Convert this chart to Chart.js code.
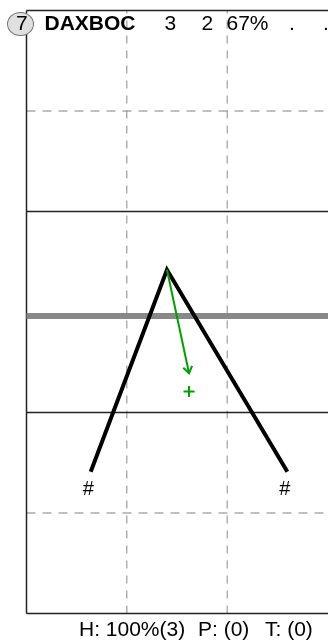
<!DOCTYPE html>
<html>
<head>
<meta charset="utf-8">
<script src="https://cdn.jsdelivr.net/npm/chart.js@4"></script>
<style>
  body { margin: 0; background: #fff; font-family: "Liberation Sans", Arial, sans-serif; }
  #wrap { position: relative; width: 328px; height: 642px; overflow: hidden; }
  canvas { position: absolute; left: 0; top: 0; }
  .t { position: absolute; font-size: 21px; line-height: 24px; color: #000; white-space: pre; }
  .badge { position: absolute; left: 6.5px; top: 11.5px; width: 25px; height: 22px; border-radius: 50%;
           background: #e0e0e0; border: 1px solid #777; }
</style>
</head>
<body>
<div id="wrap">
  <canvas id="chart" width="328" height="642"></canvas>
  <div class="badge"></div>
  <div class="t" id="num" style="left:16px;top:11px;"></div>
  <div class="t" id="name" style="left:44.5px;top:11px;font-weight:bold;"></div>
  <div id="cols"></div>
  <div id="foot"></div>
</div>
<script>
  // header / footer
  const rowNumber = '7';
  const rowName = 'DAXBOC';
  const rowCols = ['3', '2', '67%', '.', '.'];
  const colLeft = [164.5, 201.5, 226.5, 289, 323];
  const footParts = ['H: 100%(3)', 'P: (0)', 'T: (0)'];
  const footLeft = [79, 198, 265];

  // plot data (x 0..3, y 0..6); the plot runs to the right edge of the page
  const xRange = [0, 3.005];
  const yRange = [0, 6];
  const xDashed = [1, 2];
  const yDashed = [1, 5];
  const ySolid = [2, 4];
  const grayLevel = 2.96;
  const pathX = [0.64, 1.40, 2.60];
  const pathY = [1.41, 3.42, 1.41];
  const arrowX = [1.40, 1.62];
  const arrowY = [3.42, 2.39];
  const plusX = [1.62];
  const plusY = [2.21];
  const endLabel = '#';

  document.getElementById('num').textContent = rowNumber;
  document.getElementById('name').textContent = rowName;
  rowCols.forEach(function(c, i) {
    const d = document.createElement('div');
    d.className = 't';
    d.style.left = colLeft[i] + 'px';
    d.style.top = '11px';
    d.textContent = c;
    document.getElementById('cols').appendChild(d);
  });
  footParts.forEach(function(c, i) {
    const d = document.createElement('div');
    d.className = 't';
    d.style.left = footLeft[i] + 'px';
    d.style.top = '617px';
    d.textContent = c;
    document.getElementById('foot').appendChild(d);
  });

  function hLine(y, color, width, dash, order) {
    return { data: [{x: xRange[0], y: y}, {x: xRange[1], y: y}], showLine: true, borderColor: color,
             borderWidth: width, borderDash: dash, pointRadius: 0, order: order, clip: 4 };
  }
  function vLine(x, color, width, dash, order) {
    return { data: [{x: x, y: yRange[0]}, {x: x, y: yRange[1]}], showLine: true, borderColor: color,
             borderWidth: width, borderDash: dash, pointRadius: 0, order: order, clip: 4 };
  }

  const datasets = [];
  xDashed.forEach(x => datasets.push(vLine(x, '#8a8a8a', 1, [8, 7], 20)));
  yDashed.forEach(y => datasets.push(hLine(y, '#aaaaaa', 1.5, [9, 7], 20)));
  ySolid.forEach(y => datasets.push(hLine(y, '#222222', 1.5, [], 19)));
  // frame: left, top, bottom
  datasets.push(vLine(xRange[0], '#222222', 1.5, [], 18));
  datasets.push(hLine(yRange[0], '#222222', 1.5, [], 18));
  datasets.push(hLine(yRange[1], '#222222', 1.5, [], 18));
  datasets.push(hLine(grayLevel, '#888888', 6, [], 10));
  datasets.push({
    data: pathX.map((x, i) => ({x: x, y: pathY[i]})),
    showLine: true, borderColor: '#000', borderWidth: 4, pointRadius: 0, order: 3
  });
  datasets.push({
    data: arrowX.map((x, i) => ({x: x, y: arrowY[i]})),
    showLine: true, borderColor: '#00a000', borderWidth: 2, pointRadius: 0, order: 2, arrow: true
  });
  datasets.push({
    data: plusX.map((x, i) => ({x: x, y: plusY[i]})),
    pointStyle: 'cross', pointRadius: 5.5, borderColor: '#00a000', pointBorderWidth: 2, order: 1
  });

  const extras = {
    id: 'extras',
    afterDatasetsDraw(chart) {
      const ctx = chart.ctx;
      const xs = chart.scales.x, ys = chart.scales.y;
      // arrow head
      chart.data.datasets.forEach(ds => {
        if (!ds.arrow) return;
        const n = ds.data.length;
        const x1 = xs.getPixelForValue(ds.data[n - 2].x), y1 = ys.getPixelForValue(ds.data[n - 2].y);
        const x2 = xs.getPixelForValue(ds.data[n - 1].x), y2 = ys.getPixelForValue(ds.data[n - 1].y);
        const a = Math.atan2(y2 - y1, x2 - x1);
        ctx.save();
        ctx.strokeStyle = ds.borderColor;
        ctx.lineWidth = 2;
        ctx.beginPath();
        ctx.moveTo(x2 - 8 * Math.cos(a - 0.6), y2 - 8 * Math.sin(a - 0.6));
        ctx.lineTo(x2, y2);
        ctx.lineTo(x2 - 8 * Math.cos(a + 0.6), y2 - 8 * Math.sin(a + 0.6));
        ctx.stroke();
        ctx.restore();
      });
      // end labels
      ctx.save();
      ctx.fillStyle = '#000';
      ctx.font = '20px "Liberation Sans", Arial, sans-serif';
      ctx.textAlign = 'center';
      ctx.textBaseline = 'middle';
      [0, pathX.length - 1].forEach(i => {
        ctx.fillText(endLabel, xs.getPixelForValue(pathX[i]) - 2.5, ys.getPixelForValue(pathY[i]) + 18);
      });
      ctx.restore();
    }
  };

  new Chart(document.getElementById('chart').getContext('2d'), {
    type: 'scatter',
    data: { datasets: datasets },
    options: {
      responsive: false,
      animation: false,
      layout: { autoPadding: false, padding: { left: 26.5, right: 0, top: 10.5, bottom: 28.5 } },
      plugins: { legend: { display: false }, tooltip: { enabled: false } },
      scales: {
        x: { type: 'linear', min: xRange[0], max: xRange[1], display: false },
        y: { type: 'linear', min: yRange[0], max: yRange[1], display: false }
      }
    },
    plugins: [extras]
  });
</script>
</body>
</html>
